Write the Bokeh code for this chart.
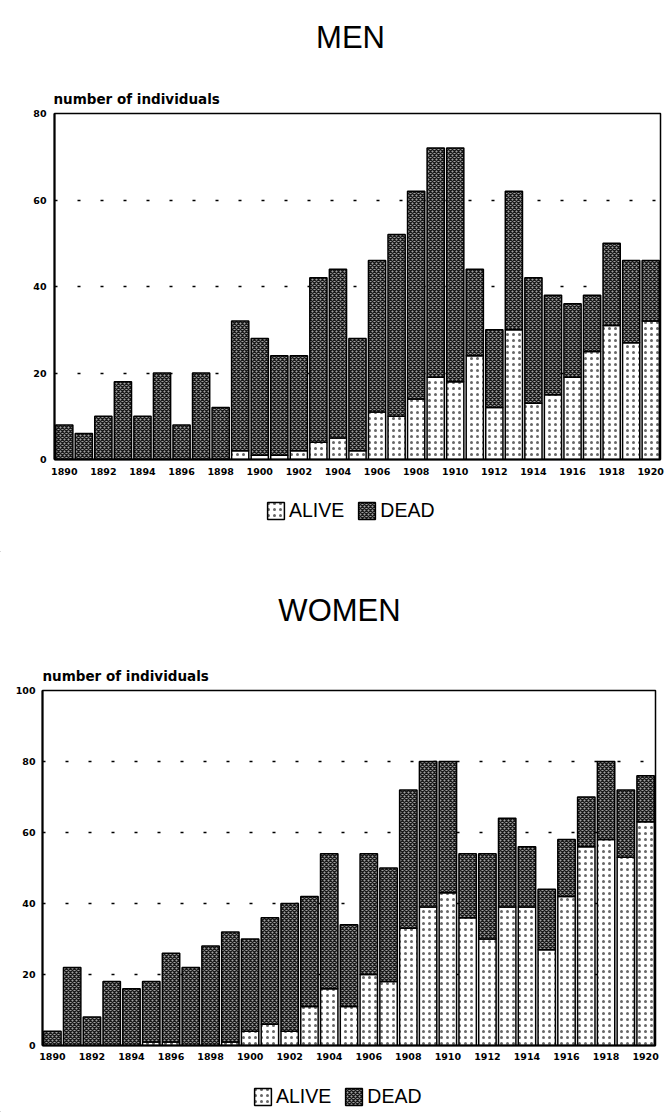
from bokeh.plotting import figure
from bokeh.models import FixedTicker, Label, Legend, LegendItem, Range1d, ColumnDataSource
from bokeh.embed import file_html
from bokeh.resources import INLINE

years = list(range(1890, 1921))
men_total = [8, 6, 10, 18, 10, 20, 8, 20, 12, 32, 28, 24, 24, 42, 44, 28,
             46, 52, 62, 72, 72, 44, 30, 62, 42, 38, 36, 38, 50, 46, 46]
men_alive = [0, 0, 0, 0, 0, 0, 0, 0, 0, 2, 1, 1, 2, 4, 5, 2,
             11, 10, 14, 19, 18, 24, 12, 30, 13, 15, 19, 25, 31, 27, 32]
women_total = [4, 22, 8, 18, 16, 18, 26, 22, 28, 32, 30, 36, 40, 42, 54, 34,
               54, 50, 72, 80, 80, 54, 54, 64, 56, 44, 58, 70, 80, 72, 76]
women_alive = [0, 0, 0, 0, 0, 1, 1, 0, 0, 1, 4, 6, 4, 11, 16, 11,
               20, 18, 33, 39, 43, 36, 30, 39, 39, 27, 42, 56, 58, 53, 63]
x_ticks = list(range(1890, 1921, 2))
men_y_ticks = [0, 20, 40, 60, 80]
women_y_ticks = [0, 20, 40, 60, 80, 100]
legend_labels = ["ALIVE", "DEAD"]
y_label = "number of individuals"

FONT = "Liberation Sans"
BOLD_FONT = "DejaVu Sans"
W = 670
ALIVE_STYLE = dict(fill_color="white", line_color="black", line_width=1.5,
                   hatch_pattern="dot", hatch_color="#666666", hatch_scale=6,
                   hatch_weight=0.6)
DEAD_STYLE = dict(fill_color="#a0a0a0", line_color="black", line_width=1.5,
                  hatch_pattern="diagonal_cross", hatch_color="#1a1a1a",
                  hatch_scale=4, hatch_weight=1.4)


def blank(height):
    q = figure(width=W, height=height, output_backend="svg", toolbar_location=None,
               x_range=Range1d(0, W), y_range=Range1d(0, height), min_border=0,
               x_axis_type=None, y_axis_type=None)
    q.outline_line_color = None
    q.grid.visible = False
    return q


def make_header(height, title, tx, ty, sx, sy):
    q = blank(height)
    q.add_layout(Label(x=tx, y=ty, text=title, text_align="center",
                       text_baseline="alphabetic", text_font=FONT,
                       text_font_size="31px", text_color="black"))
    q.add_layout(Label(x=sx, y=sy, text=y_label, text_align="left",
                       text_baseline="alphabetic", text_font=BOLD_FONT,
                       text_font_style="bold", text_font_size="13.5px",
                       text_color="black"))
    return q


def make_chart(totals, alive, ymax, yticks, fh, bottom, left, right, lbl_standoff):
    p = figure(width=W, height=4 + fh + bottom, output_backend="svg",
               toolbar_location=None,
               x_range=Range1d(1889.5, 1920.5), y_range=Range1d(0, ymax),
               min_border_top=4, min_border_bottom=bottom,
               min_border_left=left, min_border_right=right)
    p.outline_line_color = "black"
    p.outline_line_width = 1.5
    src = ColumnDataSource(dict(x=years, alive=alive, total=totals))
    p.vbar(x="x", bottom=0, top="alive", width=0.88, source=src, **ALIVE_STYLE)
    p.vbar(x="x", bottom="alive", top="total", width=0.88, source=src, **DEAD_STYLE)

    p.xaxis.ticker = FixedTicker(ticks=x_ticks)
    p.yaxis.ticker = FixedTicker(ticks=yticks)
    p.xgrid.visible = False
    p.ygrid.grid_line_color = "black"
    p.ygrid.grid_line_width = 1.6
    p.ygrid.grid_line_dash = "3 20"
    p.ygrid.level = "underlay"
    for ax in (p.xaxis[0], p.yaxis[0]):
        ax.axis_line_width = 2
        ax.axis_line_color = "black"
        ax.major_tick_line_color = None
        ax.minor_tick_line_color = None
        ax.major_tick_out = 0
        ax.major_tick_in = 0
        ax.minor_tick_out = 0
        ax.major_label_text_font = BOLD_FONT
        ax.major_label_text_font_style = "bold"
        ax.major_label_text_font_size = "9.5px"
        ax.major_label_text_color = "black"
        ax.major_label_standoff = lbl_standoff
    return p


def make_legend(height, lx, ly):
    q = blank(height)
    ra = q.vbar(x=[-1000], bottom=[-1000], top=[-900], width=1, **ALIVE_STYLE)
    rd = q.vbar(x=[-1000], bottom=[-1000], top=[-900], width=1, **DEAD_STYLE)
    legend = Legend(items=[LegendItem(label=legend_labels[0], renderers=[ra]),
                           LegendItem(label=legend_labels[1], renderers=[rd])],
                    orientation="horizontal", location=(lx, ly),
                    label_text_font=FONT, label_text_font_size="19.5px",
                    label_text_color="black", glyph_width=21, glyph_height=21,
                    label_standoff=3, spacing=12, padding=0, margin=0,
                    border_line_color=None, background_fill_alpha=0)
    q.add_layout(legend, "center")
    return q


men_head = make_header(109, "MEN", 350, 72, 53, 11)
men = make_chart(men_total, men_alive, 80, men_y_ticks, 346, 30, 54, 10, 8)
men_leg = make_legend(63, 265, 30)
women_head = make_header(134, "WOMEN", 339, 76, 42, 11)
women = make_chart(women_total, women_alive, 100, women_y_ticks, 355, 25, 42, 15, 7)
women_leg = make_legend(42, 252, 4)

models = [men_head, men, men_leg, women_head, women, women_leg]
open("out.html", "w").write(file_html(models, INLINE))
